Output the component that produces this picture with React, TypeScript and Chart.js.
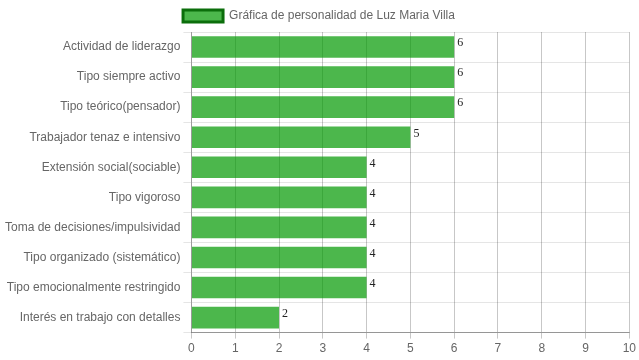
import React, { useEffect, useRef } from "react";
import { Chart, registerables } from "chart.js";

Chart.register(...registerables);

const categories = [
  "Actividad de liderazgo",
  "Tipo siempre activo",
  "Tipo teórico(pensador)",
  "Trabajador tenaz e intensivo",
  "Extensión social(sociable)",
  "Tipo vigoroso",
  "Toma de decisiones/impulsividad",
  "Tipo organizado (sistemático)",
  "Tipo emocionalmente restringido",
  "Interés en trabajo con detalles",
];
const values = [6, 6, 6, 5, 4, 4, 4, 4, 4, 2];
const seriesLabel = "Gráfica de personalidad de Luz Maria Villa";
const xMin = 0;
const xMax = 10;

const valueLabels = {
  id: "valueLabels",
  afterDatasetsDraw(chart: any) {
    const ctx = chart.ctx;
    ctx.save();
    ctx.font = "12px 'Liberation Serif', 'Times New Roman', serif";
    ctx.fillStyle = "#222";
    ctx.textAlign = "left";
    ctx.textBaseline = "top";
    const meta = chart.getDatasetMeta(0);
    meta.data.forEach((el: any, i: number) => {
      const v = chart.data.datasets[0].data[i];
      ctx.fillText(String(v), el.x + 3, el.y - el.height / 2 + 1);
    });
    ctx.restore();
  },
};

export default function App() {
  const ref = useRef<HTMLCanvasElement>(null);
  useEffect(() => {
    if (!ref.current) return;
    Chart.defaults.font.family = "'Liberation Sans', Arial, sans-serif";
    Chart.defaults.font.size = 12;
    Chart.defaults.color = "#666";
    const chart = new Chart(ref.current, {
      type: "bar",
      data: {
        labels: categories,
        datasets: [
          {
            label: seriesLabel,
            data: values,
            backgroundColor: "rgba(0,153,0,0.7)",
            borderColor: "#0b6e0b",
            borderWidth: 0,
          },
        ],
      },
      options: {
        indexAxis: "y",
        animation: false,
        responsive: false,
        maintainAspectRatio: false,
        layout: { padding: { left: 2, right: 3, bottom: 1 } },
        plugins: {
          tooltip: { enabled: false },
          legend: {
            labels: {
              boxWidth: 40,
              boxHeight: 12,
              generateLabels: (c: any) => [
                {
                  text: seriesLabel,
                  fillStyle: "rgba(0,153,0,0.7)",
                  strokeStyle: "#0b6e0b",
                  lineWidth: 3,
                  hidden: false,
                  datasetIndex: 0,
                  fontColor: "#666",
                },
              ],
            },
          },
        },
        scales: {
          x: {
            min: xMin,
            max: xMax,
            ticks: { stepSize: 1, color: "#666" },
            grid: { color: "rgba(0,0,0,0.22)", tickLength: 6 },
            border: { color: "rgba(0,0,0,0.35)" },
          },
          y: {
            ticks: { color: "#666" },
            grid: { color: "rgba(0,0,0,0.1)", tickLength: 8 },
            border: { color: "rgba(0,0,0,0.22)" },
          },
        },
      },
      plugins: [valueLabels],
    });
    return () => chart.destroy();
  }, []);
  return (
    <canvas
      ref={ref}
      width={639}
      height={360}
      style={{ position: "absolute", left: 0, top: 0, width: 639, height: 360 }}
    />
  );
}
